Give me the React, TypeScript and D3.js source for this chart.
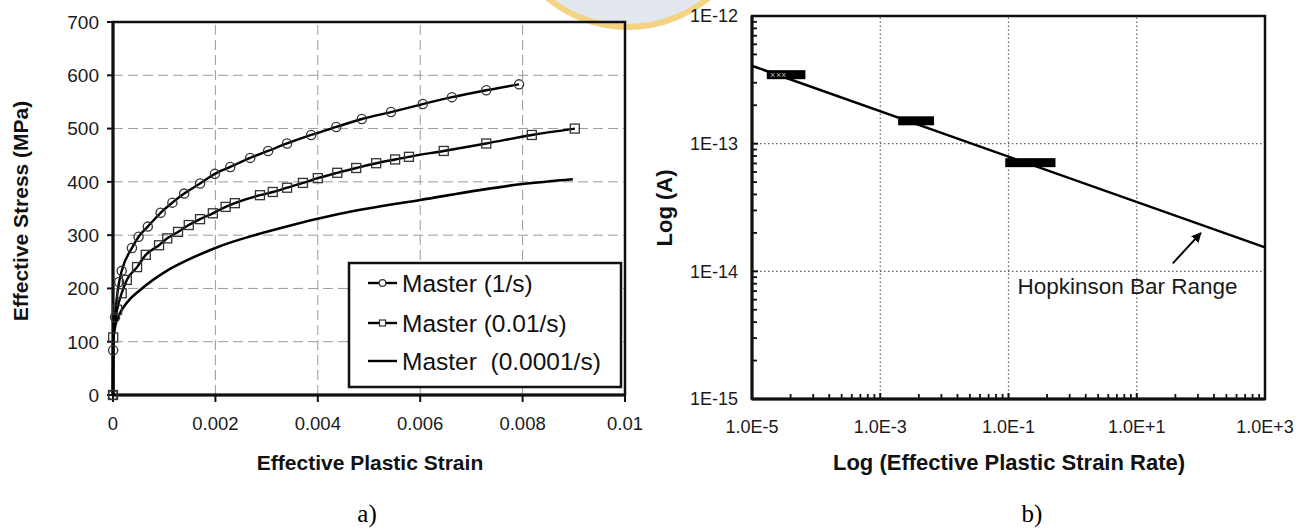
import React from "react";
import * as d3 from "d3";

// ---------- Panel a) data ----------
const m1Strain = [0, 0.000003, 0.00004, 0.00012, 0.00017, 0.00037, 0.0005, 0.00068, 0.00093, 0.00116, 0.00139, 0.0017, 0.00199, 0.00229, 0.00268, 0.00303, 0.0034, 0.00387, 0.00436, 0.00486, 0.00543, 0.00605, 0.00662, 0.00729, 0.00793];
const m1Stress = [0, 84, 146, 212, 233, 276, 297, 316, 342, 361, 378, 397, 415, 428, 445, 458, 472, 488, 503, 518, 531, 546, 559, 572, 583];

const m2Strain = [0, 0.000004, 0.00008, 0.00017, 0.00027, 0.00047, 0.00064, 0.0009, 0.00106, 0.00127, 0.00148, 0.0017, 0.00195, 0.0022, 0.00238, 0.00287, 0.00312, 0.0034, 0.00371, 0.004, 0.00438, 0.00475, 0.00514, 0.00551, 0.00578, 0.00646, 0.00729, 0.00818, 0.00902];
const m2Stress = [0, 108, 160, 191, 216, 240, 263, 281, 294, 306, 319, 330, 341, 353, 360, 375, 381, 389, 398, 407, 417, 426, 435, 442, 447, 458, 472, 488, 500];

const m3Strain = [0, 0.000002, 0.00004, 0.0001, 0.00027, 0.00053, 0.00105, 0.00145, 0.002, 0.00326, 0.00443, 0.006, 0.008, 0.00898];
const m3Stress = [0, 100, 128, 146, 173, 197, 233, 253, 276, 313, 340, 366, 396, 405];

const xTicksA = [0, 0.002, 0.004, 0.006, 0.008, 0.01];
const xTickLabelsA = ["0", "0.002", "0.004", "0.006", "0.008", "0.01"];
const yTicksA = [0, 100, 200, 300, 400, 500, 600, 700];
const legendLabels = ["Master (1/s)", "Master (0.01/s)", "Master  (0.0001/s)"];

// ---------- Panel b) data ----------
const fitRate = [1e-5, 1e3];
const fitA = [4.07e-13, 1.54e-14];
const clusterLo = [1.7e-5, 1.9e-3, 0.089];
const clusterHi = [6.8e-5, 6.9e-3, 0.54];
const clusterA = [3.47e-13, 1.51e-13, 7.1e-14];
const crossRates = [2.1e-5, 2.6e-5, 3.1e-5];
const xMajorB = [1e-5, 1e-3, 1e-1, 1e1, 1e3];
const xMajorLabelsB = ["1.0E-5", "1.0E-3", "1.0E-1", "1.0E+1", "1.0E+3"];
const yMajorB = [1e-15, 1e-14, 1e-13, 1e-12];
const yMajorLabelsB = ["1E-15", "1E-14", "1E-13", "1E-12"];
const annotText = "Hopkinson Bar Range";

const SANS = "'Liberation Sans', Arial, Helvetica, sans-serif";
const SERIF = "'Liberation Serif', 'Times New Roman', serif";

export default function App() {
  // Panel a scales
  const xA = d3.scaleLinear().domain([0, 0.01]).range([113, 625]);
  const yA = d3.scaleLinear().domain([0, 700]).range([395, 22]);
  const lineA = d3
    .line<[number, number]>()
    .x((d) => xA(d[0]))
    .y((d) => yA(d[1]))
    .curve(d3.curveMonotoneX);
  const s1 = m1Strain.map((v, i) => [v, m1Stress[i]] as [number, number]);
  const s2 = m2Strain.map((v, i) => [v, m2Stress[i]] as [number, number]);
  const s3 = m3Strain.map((v, i) => [v, m3Stress[i]] as [number, number]);

  // Panel b scales
  const xB = d3.scaleLog().domain([1e-5, 1e3]).range([752, 1265]);
  const yB = d3.scaleLog().domain([1e-15, 1e-12]).range([399, 16]);
  const xMinorB: number[] = [];
  [1e-5, 1e-3, 1e-1, 1e1].forEach((m) => {
    for (let k = 2; k <= 9; k++) xMinorB.push(m * k * k);
  });
  const yMinorB: number[] = [];
  [1e-15, 1e-14, 1e-13].forEach((m) => {
    for (let k = 2; k <= 9; k++) yMinorB.push(m * k);
  });
  const fitLine = d3
    .line<number>()
    .x((d) => xB(d))
    .y((_, i) => yB(fitA[i]));

  const gridA = "#9a9a9a";
  const legRows = [283, 323, 361];

  return (
    <div style={{ position: "absolute", left: 0, top: 0 }}>
      <svg width={1307} height={529} style={{ display: "block", background: "#fff" }}>
        {/* watermark */}
        <circle cx={628} cy={-99} r={126} fill="#dde3ee" stroke="#f3cd6e" strokeWidth={6} opacity={0.85} />

        {/* ---------------- Panel a ---------------- */}
        <g>
          {yTicksA.slice(1, -1).map((t) => (
            <line key={"gy" + t} x1={xA(0)} x2={xA(0.01)} y1={yA(t)} y2={yA(t)} stroke={gridA} strokeWidth={1} strokeDasharray="10,5" />
          ))}
          {xTicksA.slice(1, -1).map((t) => (
            <line key={"gx" + t} x1={xA(t)} x2={xA(t)} y1={yA(0)} y2={yA(700)} stroke={gridA} strokeWidth={1} strokeDasharray="10,5" />
          ))}
          <rect x={xA(0)} y={yA(700)} width={xA(0.01) - xA(0)} height={yA(0) - yA(700)} fill="none" stroke="#111" strokeWidth={2.5} />
          <line x1={xA(0)} x2={xA(0)} y1={yA(0)} y2={yA(700)} stroke="#111" strokeWidth={3} />
          <line x1={xA(0)} x2={xA(0.01)} y1={yA(0)} y2={yA(0)} stroke="#111" strokeWidth={3} />
          {yTicksA.map((t) => (
            <g key={"ty" + t}>
              <line x1={xA(0) - 6} x2={xA(0)} y1={yA(t)} y2={yA(t)} stroke="#111" strokeWidth={2} />
              <text x={99} y={yA(t)} dy="0.36em" textAnchor="end" fontFamily={SANS} fontSize={19} fill="#1a1a1a">
                {t}
              </text>
            </g>
          ))}
          {xTicksA.map((t, i) => (
            <g key={"tx" + t}>
              <line x1={xA(t)} x2={xA(t)} y1={yA(0)} y2={yA(0) + 7} stroke="#111" strokeWidth={2} />
              <text x={xA(t)} y={430} textAnchor="middle" fontFamily={SANS} fontSize={18.5} fill="#1a1a1a">
                {xTickLabelsA[i]}
              </text>
            </g>
          ))}
          <path d={lineA(s3) || ""} fill="none" stroke="#000" strokeWidth={2.6} />
          <path d={lineA(s2) || ""} fill="none" stroke="#000" strokeWidth={2.4} />
          <path d={lineA(s1) || ""} fill="none" stroke="#000" strokeWidth={2.4} />
          {s1.map((d, i) => (
            <circle key={"c" + i} cx={xA(d[0])} cy={yA(d[1])} r={4.6} fill="none" stroke="#333" strokeWidth={1.3} />
          ))}
          {s2.map((d, i) => (
            <rect key={"s" + i} x={xA(d[0]) - 4.5} y={yA(d[1]) - 4.5} width={9} height={9} fill="none" stroke="#333" strokeWidth={1.3} />
          ))}
          <text x={370} y={470} textAnchor="middle" fontFamily={SANS} fontSize={21} fontWeight="bold" fill="#111">
            Effective Plastic Strain
          </text>
          <text transform="translate(28,211) rotate(-90)" textAnchor="middle" fontFamily={SANS} fontSize={21} fontWeight="bold" fill="#111">
            Effective Stress (MPa)
          </text>
          <rect x={349} y={263} width={272} height={124} fill="#fff" stroke="#111" strokeWidth={2.5} />
          {legendLabels.map((lab, i) => (
            <g key={"lg" + i}>
              <line x1={368} x2={397} y1={legRows[i]} y2={legRows[i]} stroke="#000" strokeWidth={2.4} />
              {i === 0 && <circle cx={382.5} cy={legRows[i]} r={3.3} fill="#fff" stroke="#333" strokeWidth={1.2} />}
              {i === 1 && <rect x={379.5} y={legRows[i] - 3} width={6} height={6} fill="#fff" stroke="#333" strokeWidth={1.2} />}
              <text x={402} y={legRows[i]} dy="0.36em" fontFamily={SANS} fontSize={24.5} fill="#111" style={{ whiteSpace: "pre" }}>
                {lab}
              </text>
            </g>
          ))}
          <text x={367} y={522} textAnchor="middle" fontFamily={SERIF} fontSize={25} fill="#000">
            a)
          </text>
        </g>

        {/* ---------------- Panel b ---------------- */}
        <g>
          {yMajorB.slice(1, -1).map((t) => (
            <line key={"gby" + t} x1={xB(1e-5)} x2={xB(1e3)} y1={yB(t)} y2={yB(t)} stroke="#666" strokeWidth={1.2} strokeDasharray="1.5,2.5" />
          ))}
          {xMajorB.slice(1, -1).map((t) => (
            <line key={"gbx" + t} x1={xB(t)} x2={xB(t)} y1={yB(1e-15)} y2={yB(1e-12)} stroke="#666" strokeWidth={1.2} strokeDasharray="1.5,2.5" />
          ))}
          <rect x={xB(1e-5)} y={yB(1e-12)} width={xB(1e3) - xB(1e-5)} height={yB(1e-15) - yB(1e-12)} fill="none" stroke="#111" strokeWidth={2.5} />
          <line x1={xB(1e-5)} x2={xB(1e-5)} y1={yB(1e-15)} y2={yB(1e-12)} stroke="#111" strokeWidth={3} />
          <line x1={xB(1e-5)} x2={xB(1e3)} y1={yB(1e-15)} y2={yB(1e-15)} stroke="#111" strokeWidth={3} />
          {yMinorB.map((t, i) => (
            <line key={"ymb" + i} x1={xB(1e-5)} x2={xB(1e-5) + 5} y1={yB(t)} y2={yB(t)} stroke="#111" strokeWidth={1.8} />
          ))}
          {yMajorB.map((t) => (
            <line key={"yMb" + t} x1={xB(1e-5)} x2={xB(1e-5) + 6} y1={yB(t)} y2={yB(t)} stroke="#111" strokeWidth={2} />
          ))}
          {xMinorB.map((t, i) => (
            <line key={"xmb" + i} x1={xB(t)} x2={xB(t)} y1={yB(1e-15)} y2={yB(1e-15) - 5} stroke="#111" strokeWidth={1.8} />
          ))}
          {xMajorB.map((t) => (
            <line key={"xMb" + t} x1={xB(t)} x2={xB(t)} y1={yB(1e-15)} y2={yB(1e-15) - 6} stroke="#111" strokeWidth={2} />
          ))}
          {yMajorB.map((t, i) => (
            <text key={"yl" + t} x={738} y={yB(t)} dy="0.36em" textAnchor="end" fontFamily={SANS} fontSize={18} fill="#1a1a1a">
              {yMajorLabelsB[i]}
            </text>
          ))}
          {xMajorB.map((t, i) => (
            <text key={"xl" + t} x={xB(t)} y={433} textAnchor="middle" fontFamily={SANS} fontSize={18} fill="#1a1a1a">
              {xMajorLabelsB[i]}
            </text>
          ))}
          <path d={fitLine(fitRate) || ""} fill="none" stroke="#000" strokeWidth={2.4} />
          {clusterLo.map((lo, i) => (
            <rect key={"cl" + i} x={xB(lo)} y={yB(clusterA[i]) - 4.5} width={xB(clusterHi[i]) - xB(lo)} height={9} fill="#000" />
          ))}
          {crossRates.map((r, i) => (
            <text key={"cr" + i} x={xB(r)} y={yB(clusterA[0])} dy="0.32em" textAnchor="middle" fontFamily={SANS} fontSize={9} fill="#bbb">
              ×
            </text>
          ))}
          <defs>
            <marker id="arrowhead" viewBox="0 0 10 10" refX={9} refY={5} markerWidth={5} markerHeight={5} orient="auto">
              <path d="M0,0 L10,5 L0,10 z" fill="#000" />
            </marker>
          </defs>
          <line x1={xB(36.5)} y1={yB(1.155e-14)} x2={xB(100)} y2={yB(2e-14)} stroke="#000" strokeWidth={2} markerEnd="url(#arrowhead)" />
          <text x={xB(0.138)} y={yB(6.6e-15)} fontFamily={SANS} fontSize={22.5} fill="#1a1a1a">
            {annotText}
          </text>
          <text x={1009} y={470} textAnchor="middle" fontFamily={SANS} fontSize={22} fontWeight="bold" fill="#111">
            Log (Effective Plastic Strain Rate)
          </text>
          <text transform="translate(672,208) rotate(-90)" textAnchor="middle" fontFamily={SANS} fontSize={22} fontWeight="bold" fill="#111">
            Log (A)
          </text>
          <text x={1032} y={522} textAnchor="middle" fontFamily={SERIF} fontSize={25} fill="#000">
            b)
          </text>
        </g>
      </svg>
    </div>
  );
}
